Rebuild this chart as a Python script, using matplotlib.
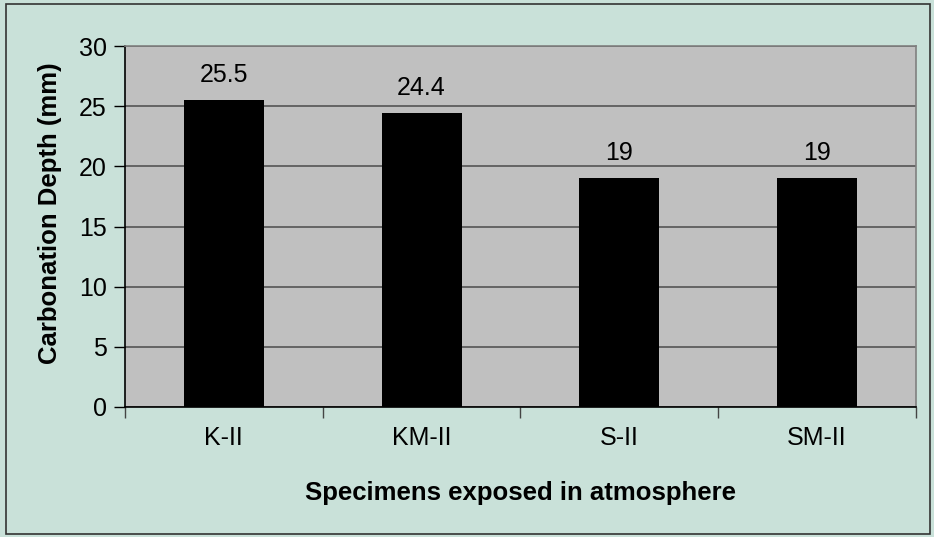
import matplotlib.pyplot as plt
import numpy as np

specimens = ['K-II', 'KM-II', 'S-II', 'SM-II']
depth = [25.5, 24.4, 19, 19]
depth_labels = ['25.5', '24.4', '19', '19']
yticks = [0, 5, 10, 15, 20, 25, 30]

plt.rcParams['font.family'] = ['Liberation Sans', 'DejaVu Sans']

fig = plt.figure(figsize=(9.34, 5.37), dpi=100, facecolor='#C9E1D9')
ax = fig.add_axes([0.1338, 0.2421, 0.8469, 0.6722])
ax.set_facecolor('#C0C0C0')

x = np.arange(len(specimens))
ax.bar(x, depth, width=0.405, color='black', zorder=3)
for xi, v, s in zip(x, depth, depth_labels):
    ax.text(xi, v + 1.1, s, ha='center', va='bottom', fontsize=18)

ax.set_xlim(-0.5, len(specimens) - 0.5)
ax.set_ylim(0, 30)
ax.set_yticks(yticks)
ax.yaxis.grid(True, color='#555555', linewidth=1.2, zorder=1)
ax.set_axisbelow(True)

# category labels centred, tick marks on the category boundaries
ax.set_xticks(x)
ax.set_xticklabels(specimens, fontsize=18)
ax.tick_params(axis='x', length=0, pad=14)
ax.set_xticks(np.arange(len(specimens) + 1) - 0.5, minor=True)
ax.tick_params(axis='x', which='minor', length=8, width=1, color='#444444')
ax.tick_params(axis='y', length=8, width=1, labelsize=18, pad=5)

for side in ['top', 'right']:
    ax.spines[side].set_color('#808080')
    ax.spines[side].set_linewidth(1.2)
for side in ['left', 'bottom']:
    ax.spines[side].set_color('black')
    ax.spines[side].set_linewidth(1.2)

ax.set_xlabel('Specimens exposed in atmosphere', fontsize=18.5, fontweight='bold', labelpad=22)
ax.set_ylabel('Carbonation Depth (mm)', fontsize=18.5, fontweight='bold', va='center')
ax.yaxis.set_label_coords(-0.095, 0.537)

# outer chart border
fig.patches.append(plt.Rectangle((0.006, 0.006), 0.99, 0.986, transform=fig.transFigure,
                                 fill=False, edgecolor='#333333', linewidth=1.2))

fig.savefig('out.png', dpi=100, facecolor=fig.get_facecolor())
